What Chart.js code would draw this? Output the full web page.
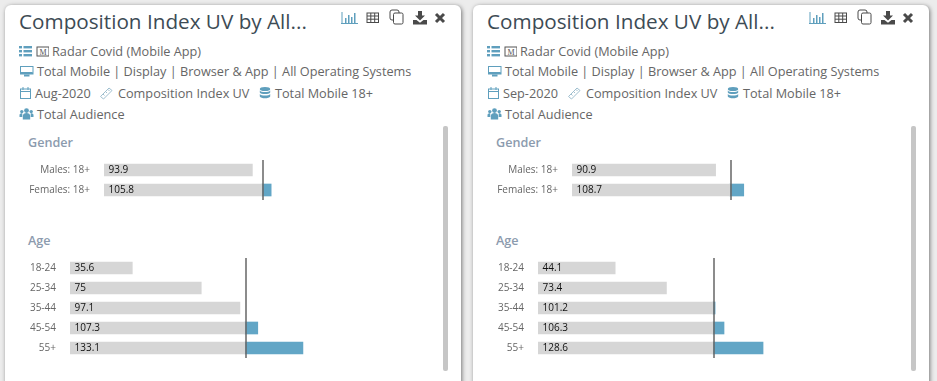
<!DOCTYPE html>
<html>
<head>
<meta charset="utf-8">
<title>Composition Index UV</title>
<script src="https://cdn.jsdelivr.net/npm/chart.js@4"></script>
<style>
  html, body { margin: 0; padding: 0; }
  body { width: 937px; height: 381px; overflow: hidden; background: #ececec; position: relative; font-family: "Open Sans", sans-serif; }
  .panel { position: absolute; top: 5px; width: 456px; height: 400px; background: #fff; border-radius: 6px; box-shadow: 1px 1px 4px rgba(0,0,0,.5); }
  .panel > * { position: absolute; }
  .title { left: 14px; top: 1px; font-size: 20.7px; line-height: 30px; color: #3d4b55; white-space: nowrap; }
  .row { left: 14px; font-size: 12.7px; line-height: 18px; color: #666; white-space: nowrap; }
  .row svg { position: absolute; top: 2px; }
  .row span { position: absolute; top: 0; }
  .section { left: 23px; font-size: 12.6px; font-weight: 600; line-height: 18px; color: #8c9bae; }
  .scroll { left: 438px; top: 121px; width: 5px; height: 245px; background: #c6c6c6; border-radius: 2px; }
  .tool { top: 3px; }
  canvas { position: absolute; }
</style>
</head>
<body>
<script>
const panelTitle = 'Composition Index UV by All...';
const siteLabel = 'Radar Covid (Mobile App)';
const platformLabel = 'Total Mobile | Display | Browser &amp; App | All Operating Systems';
const metricLabel = 'Composition Index UV';
const targetLabel = 'Total Mobile 18+';
const audienceLabel = 'Total Audience';

const months = ['Aug-2020', 'Sep-2020'];
const genderLabels = ['Males: 18+', 'Females: 18+'];
const ageLabels = ['18-24', '25-34', '35-44', '45-54', '55+'];

const genderAug = [93.9, 105.8];
const genderSep = [90.9, 108.7];
const ageAug = [35.6, 75, 97.1, 107.3, 133.1];
const ageSep = [44.1, 73.4, 101.2, 106.3, 128.6];

const indexBase = 100;
const axisMax = 200;

const ICON = '#5f9fbd';
const TOOL = '#4a4a4a';

const icons = {
    list: `<svg width="16" height="14" viewBox="0 0 16 14" fill="${ICON}"><rect x="0" y="2" width="3" height="2.4"/><rect x="0" y="6" width="3" height="2.4"/><rect x="0" y="10" width="3" height="2.4"/><rect x="4.5" y="2" width="8.5" height="2.4"/><rect x="4.5" y="6" width="8.5" height="2.4"/><rect x="4.5" y="10" width="8.5" height="2.4"/></svg>`,
    mobile: `<svg width="14" height="14" viewBox="0 0 14 14"><rect x="1" y="3" width="12" height="9" fill="none" stroke="#555"/><text x="7" y="10.5" font-size="8" text-anchor="middle" fill="#555" font-family="Liberation Serif">M</text></svg>`,
    screen: `<svg width="16" height="14" viewBox="0 0 16 14" fill="${ICON}"><path d="M1 2h13.5v8.5H1z M2 3v5.5h11.5V3z" fill-rule="evenodd"/><rect x="2" y="8" width="11.5" height="2"/><rect x="5" y="10.5" width="5.5" height="2"/></svg>`,
    calendar: `<svg width="14" height="14" viewBox="0 0 14 14" fill="none" stroke="${ICON}"><rect x="1.5" y="3" width="10" height="9.5"/><path d="M1.5 5.5h10M4 1v3M9 1v3"/></svg>`,
    ruler: `<svg width="16" height="14" viewBox="0 0 16 14" fill="none" stroke="#9fbfcf"><path d="M1.5 10.5l8.5-8.5 3 2.5-8.5 8.5z"/><path d="M4 8l1.5 1.5M6.5 5.5L8 7M9 3.5l1.5 1.5"/></svg>`,
    db: `<svg width="13" height="14" viewBox="0 0 13 14" fill="${ICON}"><ellipse cx="6" cy="3" rx="5.2" ry="2"/><path d="M.8 4.5c1 2 9.4 2 10.4 0v2c-1 2-9.4 2-10.4 0zM.8 8c1 2 9.4 2 10.4 0v2.5c-1 2.4-9.4 2.4-10.4 0z"/></svg>`,
    people: `<svg width="16" height="14" viewBox="0 0 16 14" fill="${ICON}"><circle cx="7.5" cy="3.6" r="2.4"/><circle cx="2.8" cy="4.6" r="1.7"/><circle cx="12.2" cy="4.6" r="1.7"/><path d="M3.8 12.5V9c0-2 1.6-3 3.7-3s3.7 1 3.7 3v3.5z"/><path d="M.5 10V8c0-1.2 1-1.8 2.8-1.8V10zM14.5 10V8c0-1.2-1-1.8-2.8-1.8V10z"/></svg>`
};

const tools = [
    [336, `<svg width="17" height="14" viewBox="0 0 17 14" fill="${ICON}"><rect x="0" y="12" width="17" height="1"/><rect x="0.5" y="1" width="1" height="11"/><rect x="4" y="7" width="1.5" height="5"/><rect x="7" y="4" width="1.5" height="8"/><rect x="10" y="6" width="1.5" height="6"/><rect x="13" y="2" width="1.5" height="10"/></svg>`],
    [361, `<svg width="14" height="14" viewBox="0 0 14 14" fill="none" stroke="${TOOL}"><rect x="1" y="2" width="11.5" height="9.5"/><path d="M1 5h11.5M1 8.2h11.5M4.8 2v9.5M8.7 2v9.5"/></svg>`],
    [384, `<svg width="16" height="16" viewBox="0 0 16 16" fill="none" stroke="${TOOL}"><rect x="1" y="1" width="9" height="10" rx="2"/><rect x="4.5" y="4" width="9.5" height="11" rx="1.5" fill="#fff"/></svg>`],
    [408, `<svg width="15" height="14" viewBox="0 0 15 14" fill="${TOOL}"><path d="M5 0h4v4.5h3L7 9.5 2 4.5h3z"/><path d="M0 9h3.5l3.5 2.8L10.5 9H14v4.5H0z"/></svg>`],
    [429, `<svg width="12" height="14" viewBox="0 0 12 14" fill="none" stroke="${TOOL}" stroke-width="3"><path d="M2 3l8 8M10 3l-8 8"/></svg>`]
];

// gray up to the base, blue for the part above it, and the base line on top
const indexPlugin = {
    id: 'indexMarks',
    afterDatasetsDraw(chart, args, opts) {
        const { ctx, chartArea, scales } = chart;
        const x = Math.round(scales.x.getPixelForValue(indexBase)) + 1;
        ctx.save();
        ctx.strokeStyle = '#666';
        ctx.lineWidth = 1.5;
        ctx.beginPath();
        ctx.moveTo(x, chartArea.top);
        ctx.lineTo(x, chartArea.bottom);
        ctx.stroke();
        ctx.fillStyle = '#111';
        ctx.font = '10px "Open Sans"';
        ctx.textBaseline = 'middle';
        opts.values.forEach((v, i) => {
            ctx.fillText(String(v), scales.x.getPixelForValue(0) + 4.5, scales.y.getPixelForValue(i) + 0.5);
        });
        ctx.restore();
    }
};

function barChart(parent, left, top, labels, values, axisWidth) {
    const canvas = document.createElement('canvas');
    canvas.style.left = left + 'px';
    canvas.style.top = top + 'px';
    canvas.width = 400;
    canvas.height = labels.length * 20;
    parent.appendChild(canvas);
    return new Chart(canvas.getContext('2d'), {
        type: 'bar',
        data: {
            labels: labels,
            datasets: [
                {
                    data: values.map(v => [0, Math.min(v, indexBase)]),
                    backgroundColor: '#d6d6d6',
                    barThickness: 12,
                    grouped: false
                },
                {
                    data: values.map(v => v > indexBase ? [indexBase, v] : null),
                    backgroundColor: '#62a6c6',
                    barThickness: 12,
                    grouped: false
                }
            ]
        },
        options: {
            indexAxis: 'y',
            responsive: false,
            maintainAspectRatio: false,
            animation: false,
            layout: { padding: 0 },
            plugins: {
                legend: { display: false },
                tooltip: { enabled: false },
                indexMarks: { values: values }
            },
            scales: {
                x: { display: false, min: 0, max: axisMax },
                y: {
                    afterFit: scale => {
                        // keep the plot area the full height of the canvas
                        scale.width = axisWidth;
                        scale.paddingTop = 0;
                        scale.paddingBottom = 0;
                    },
                    grid: { display: false, drawTicks: false },
                    border: { display: false },
                    ticks: {
                        padding: 14,
                        color: '#666',
                        font: { family: '"Open Sans"', size: 10 }
                    }
                }
            }
        },
        plugins: [indexPlugin]
    });
}

function addEl(parent, cls, css, html) {
    const el = document.createElement('div');
    el.className = cls;
    el.style.cssText = css;
    el.innerHTML = html;
    parent.appendChild(el);
    return el;
}

function buildPanel(left, month, genderValues, ageValues) {
    const panel = addEl(document.body, 'panel', `left:${left}px`, '');
    addEl(panel, 'title', '', panelTitle);
    tools.forEach(t => addEl(panel, 'tool', `left:${t[0]}px`, t[1]));
    addEl(panel, 'row', 'top:37px', `<svg style="left:0" width="16" height="14">${icons.list}</svg><svg style="left:17px" width="13" height="14">${icons.mobile}</svg><span style="left:33px">${siteLabel}</span>`);
    addEl(panel, 'row', 'top:57px', `<svg style="left:0" width="16" height="14">${icons.screen}</svg><span style="left:18px">${platformLabel}</span>`);
    addEl(panel, 'row', 'top:79px', `<svg style="left:0" width="14" height="14">${icons.calendar}</svg><span style="left:16px">${month}</span><svg style="left:80px" width="16" height="14">${icons.ruler}</svg><span style="left:99px">${metricLabel}</span><svg style="left:240px" width="13" height="14">${icons.db}</svg><span style="left:256px">${targetLabel}</span>`);
    addEl(panel, 'row', 'top:100px', `<svg style="left:0" width="16" height="14">${icons.people}</svg><span style="left:18px">${audienceLabel}</span>`);
    addEl(panel, 'scroll', '', '');
    addEl(panel, 'section', 'top:129px', 'Gender');
    addEl(panel, 'section', 'top:227px', 'Age');
    barChart(panel, 15, 155, genderLabels, genderValues, 84);
    barChart(panel, 15, 253, ageLabels, ageValues, 50);
}

buildPanel(5, months[0], genderAug, ageAug);
buildPanel(473, months[1], genderSep, ageSep);
</script>
</body>
</html>
